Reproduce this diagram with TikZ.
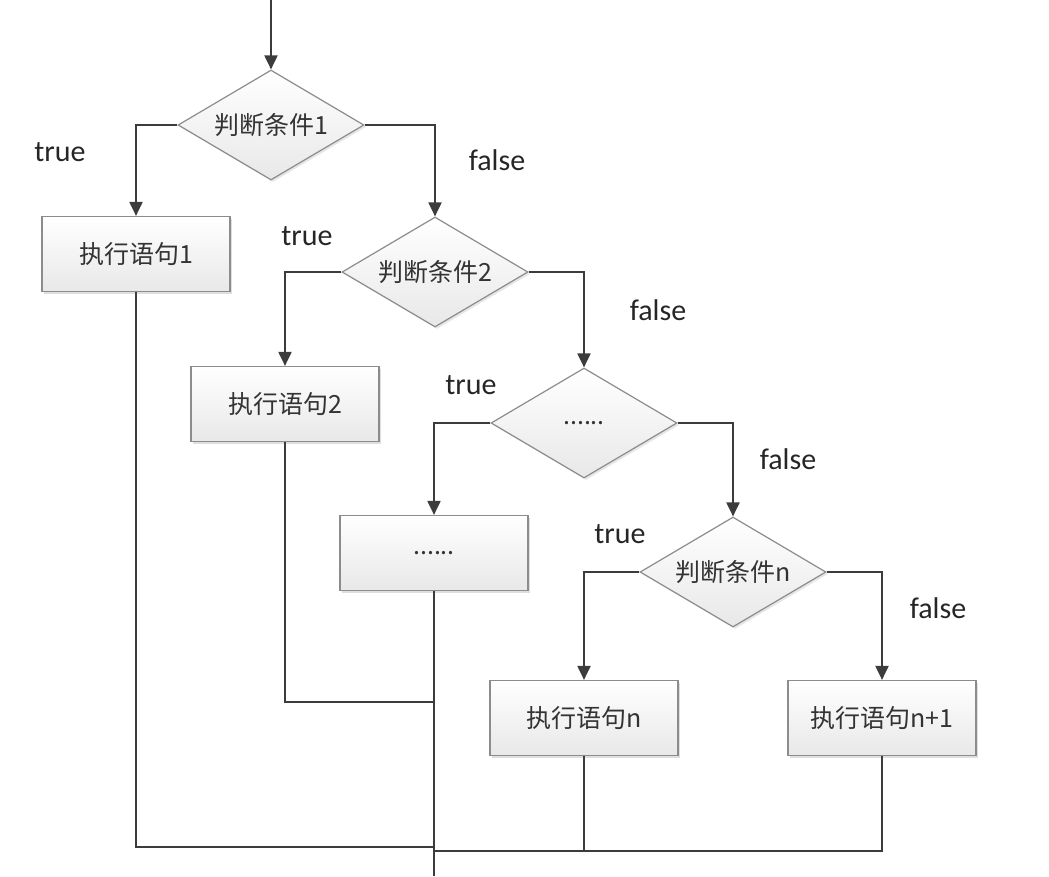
\documentclass[tikz,border=0pt]{standalone}
\usepackage{fontspec}
\setmainfont{Carlito}
\newfontfamily\cjk{Noto Sans CJK SC}
\usetikzlibrary{arrows.meta,shapes.geometric,shadows}
\definecolor{linec}{HTML}{3C3C3C}
\definecolor{borderc}{HTML}{8C8C8C}
\definecolor{textc}{HTML}{333333}
\tikzset{
  stepbox/.style={draw=borderc, line width=1.2pt, rectangle, minimum width=188pt, minimum height=75pt,
    inner sep=0pt, top color=white, bottom color=black!9, drop shadow={shadow xshift=2pt, shadow yshift=-2pt, opacity=0.25},
    font=\cjk\fontsize{25pt}{28pt}\selectfont, text=textc},
  cond/.style={draw=borderc, line width=1.2pt, diamond, shape aspect=1.69, minimum width=186pt, minimum height=110pt,
    inner sep=0pt, top color=white, bottom color=black!9, drop shadow={shadow xshift=2pt, shadow yshift=-2pt, opacity=0.2},
    font=\cjk\fontsize{25pt}{28pt}\selectfont, text=textc},
  conn/.style={draw=linec, line width=2pt},
  arr/.style={conn, -{Triangle[width=13pt,length=14pt]}},
  lbl/.style={font=\fontsize{30pt}{34pt}\selectfont, text=black!85},
}
\begin{document}
\begin{tikzpicture}[x=1pt,y=-1pt]
\useasboundingbox (0,0) rectangle (1049,876);
% nodes
\node[cond] (d1) at (271,125) {判断条件1};
\node[cond] (d2) at (435,272) {判断条件2};
\node[cond] (d3) at (584,423) {......};
\node[cond] (dn) at (733,572) {判断条件n};
\node[stepbox] (b1) at (136,254) {执行语句1};
\node[stepbox] (b2) at (285,404) {执行语句2};
\node[stepbox] (b3) at (434,553) {......};
\node[stepbox] (bn) at (584,718) {执行语句n};
\node[stepbox] (bn1) at (882,718) {执行语句n+1};
% coordinates
\coordinate (start) at (271,0);
\coordinate (m1) at (434,847);
\coordinate (m2) at (434,702);
\coordinate (m3) at (434,851);
\coordinate (out) at (434,876);
% connectors
\draw[arr] (start) -- (d1.north);
\draw[arr] (d1.west) -| (b1.north);
\draw[arr] (d1.east) -| (d2.north);
\draw[arr] (d2.west) -| (b2.north);
\draw[arr] (d2.east) -| (d3.north);
\draw[arr] (d3.west) -| (b3.north);
\draw[arr] (d3.east) -| (dn.north);
\draw[arr] (dn.west) -| (bn.north);
\draw[arr] (dn.east) -| (bn1.north);
\draw[conn] (b1.south) |- (m1);
\draw[conn] (b2.south) |- (m2);
\draw[conn] (b3.south) -- (out);
\draw[conn] (bn1.south) |- (m3);
\draw[conn] (bn.south) -- (bn.south |- m3);
% labels
\node[lbl] (t1) at (60,152) {true};
\node[lbl] (f1) at (497,160) {false};
\node[lbl] (t2) at (307,236) {true};
\node[lbl] (f2) at (658,310) {false};
\node[lbl] (t3) at (471,385) {true};
\node[lbl] (f3) at (788,459) {false};
\node[lbl] (t4) at (620,534) {true};
\node[lbl] (f4) at (938,608) {false};
\end{tikzpicture}
\end{document}
